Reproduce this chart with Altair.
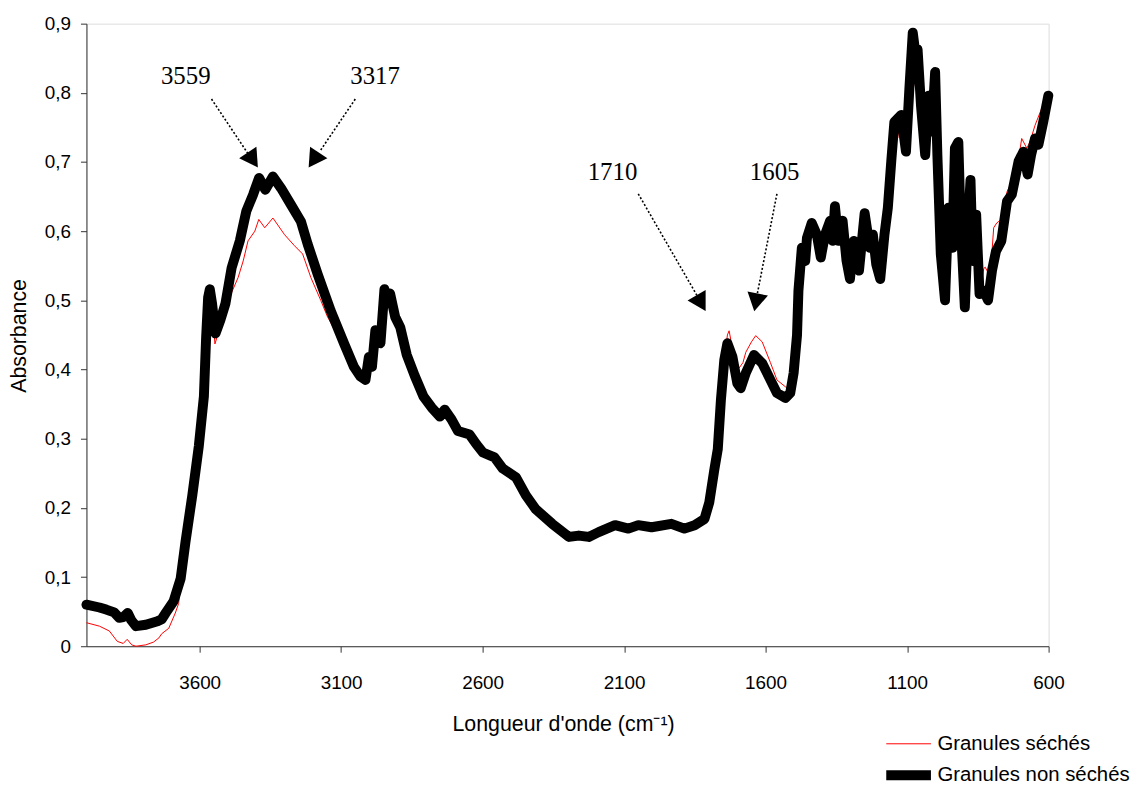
import altair as alt
import pandas as pd

# ---- Data: "Granules non séchés" (thick black) ----
wn_non_seches = [4000, 3954, 3930, 3902, 3884, 3870, 3854, 3842, 3825, 3790, 3749, 3734, 3720, 3692,
                 3667, 3650, 3626, 3603, 3585, 3577, 3570, 3564, 3556, 3544, 3527, 3509, 3487, 3458,
                 3435, 3411, 3390, 3368, 3341, 3312, 3277, 3242, 3218, 3183, 3137, 3090, 3055, 3032,
                 3014, 3002, 2991, 2979, 2961, 2947, 2938, 2927, 2909, 2891, 2868, 2840, 2809, 2780,
                 2751, 2734, 2710, 2687, 2646, 2622, 2599, 2558, 2529, 2482, 2447, 2412, 2354, 2295,
                 2260, 2225, 2190, 2132, 2085, 2050, 2003, 1933, 1887, 1851, 1816, 1799, 1781, 1769,
                 1758, 1746, 1735, 1717, 1700, 1688, 1670, 1641, 1612, 1583, 1560, 1530, 1513, 1501,
                 1489, 1484, 1472, 1460, 1454, 1437, 1419, 1405, 1390, 1372, 1363, 1355, 1343, 1328,
                 1314, 1302, 1288, 1270, 1250, 1232, 1221, 1209, 1195, 1180, 1168, 1156, 1145, 1133,
                 1121, 1104, 1092, 1080, 1071, 1063, 1051, 1036, 1024, 1013, 1001, 993, 981, 966,
                 954, 940, 931, 919, 911, 896, 885, 876, 868, 856, 844, 829, 814, 800, 786, 767,
                 747, 730, 706, 689, 674, 662, 648, 636, 619, 601]
abs_non_seches = [0.060, 0.056, 0.053, 0.049, 0.041, 0.042, 0.048, 0.038, 0.029, 0.031, 0.036, 0.039,
                  0.048, 0.065, 0.098, 0.151, 0.218, 0.289, 0.361, 0.447, 0.504, 0.516, 0.495, 0.452,
                  0.471, 0.495, 0.547, 0.586, 0.629, 0.653, 0.677, 0.660, 0.679, 0.662, 0.638, 0.614,
                  0.581, 0.538, 0.485, 0.438, 0.404, 0.390, 0.385, 0.418, 0.404, 0.457, 0.438, 0.516,
                  0.500, 0.510, 0.476, 0.461, 0.421, 0.391, 0.361, 0.345, 0.332, 0.342, 0.328, 0.311,
                  0.306, 0.292, 0.280, 0.273, 0.257, 0.244, 0.218, 0.198, 0.177, 0.158, 0.160, 0.158,
                  0.165, 0.175, 0.170, 0.175, 0.172, 0.177, 0.170, 0.175, 0.184, 0.208, 0.256, 0.285,
                  0.356, 0.414, 0.438, 0.418, 0.380, 0.373, 0.395, 0.421, 0.409, 0.385, 0.366, 0.359,
                  0.366, 0.395, 0.450, 0.514, 0.576, 0.557, 0.590, 0.612, 0.595, 0.562, 0.595, 0.615,
                  0.586, 0.636, 0.586, 0.615, 0.557, 0.531, 0.586, 0.543, 0.626, 0.576, 0.595, 0.552,
                  0.531, 0.595, 0.634, 0.701, 0.758, 0.763, 0.768, 0.715, 0.806, 0.887, 0.858, 0.863,
                  0.782, 0.710, 0.796, 0.744, 0.830, 0.710, 0.567, 0.500, 0.634, 0.576, 0.720, 0.729,
                  0.615, 0.490, 0.605, 0.674, 0.557, 0.624, 0.509, 0.514, 0.500, 0.543, 0.571, 0.586,
                  0.643, 0.653, 0.701, 0.715, 0.682, 0.710, 0.734, 0.725, 0.758, 0.796]

# ---- Data: "Granules séchés" (thin red) ----
wn_seches = [4000, 3954, 3919, 3891, 3870, 3856, 3840, 3825, 3790, 3763, 3744, 3734, 3709, 3686,
             3674, 3667, 3650, 3626, 3603, 3585, 3577, 3570, 3564, 3556, 3546, 3527, 3499, 3464,
             3446, 3429, 3405, 3391, 3370, 3341, 3300, 3265, 3236, 3207, 3172, 3148, 3137, 3120,
             3090, 3055, 3032, 3014, 3002, 2991, 2979, 2961, 2947, 2938, 2927, 2909, 2891, 2868,
             2840, 2809, 2780, 2751, 2734, 2710, 2687, 2646, 2622, 2599, 2558, 2529, 2482, 2447,
             2412, 2354, 2295, 2260, 2225, 2190, 2132, 2085, 2050, 2003, 1933, 1887, 1851, 1816,
             1799, 1781, 1769, 1758, 1746, 1735, 1729, 1717, 1700, 1694, 1680, 1670, 1650, 1635,
             1612, 1583, 1560, 1530, 1513, 1501, 1489, 1484, 1472, 1460, 1454, 1437, 1419, 1405,
             1390, 1372, 1363, 1355, 1343, 1328, 1314, 1302, 1288, 1270, 1250, 1232, 1221, 1209,
             1195, 1180, 1168, 1156, 1145, 1133, 1121, 1104, 1092, 1080, 1071, 1063, 1051, 1036,
             1024, 1013, 1001, 993, 981, 966, 954, 940, 931, 919, 911, 896, 885, 876, 868, 856,
             844, 829, 824, 814, 800, 794, 783, 766, 747, 730, 706, 695, 677, 666, 648, 625, 600]
abs_seches = [0.034, 0.029, 0.022, 0.007, 0.004, 0.010, 0.002, 0.000, 0.002, 0.006, 0.012, 0.018,
              0.026, 0.048, 0.062, 0.092, 0.151, 0.218, 0.289, 0.361, 0.447, 0.504, 0.516, 0.495,
              0.437, 0.462, 0.500, 0.533, 0.557, 0.586, 0.600, 0.617, 0.605, 0.619, 0.595, 0.579,
              0.567, 0.533, 0.500, 0.476, 0.468, 0.455, 0.438, 0.404, 0.390, 0.385, 0.418, 0.404,
              0.457, 0.438, 0.516, 0.500, 0.510, 0.476, 0.461, 0.421, 0.391, 0.361, 0.345, 0.332,
              0.342, 0.328, 0.311, 0.306, 0.292, 0.280, 0.273, 0.257, 0.244, 0.218, 0.198, 0.177,
              0.154, 0.156, 0.154, 0.165, 0.175, 0.170, 0.175, 0.172, 0.177, 0.170, 0.175, 0.184,
              0.208, 0.256, 0.285, 0.356, 0.414, 0.450, 0.456, 0.430, 0.400, 0.402, 0.410, 0.425,
              0.440, 0.449, 0.440, 0.410, 0.385, 0.375, 0.372, 0.395, 0.450, 0.514, 0.576, 0.557,
              0.590, 0.612, 0.595, 0.562, 0.595, 0.615, 0.586, 0.636, 0.586, 0.615, 0.557, 0.531,
              0.586, 0.543, 0.626, 0.576, 0.595, 0.552, 0.531, 0.595, 0.634, 0.701, 0.758, 0.735,
              0.768, 0.715, 0.806, 0.880, 0.810, 0.840, 0.782, 0.710, 0.796, 0.744, 0.830, 0.710,
              0.567, 0.500, 0.634, 0.576, 0.720, 0.729, 0.615, 0.490, 0.605, 0.674, 0.557, 0.624,
              0.509, 0.546, 0.548, 0.540, 0.571, 0.605, 0.612, 0.617, 0.657, 0.671, 0.705, 0.734,
              0.720, 0.729, 0.753, 0.777, 0.800]

x_ticks = [3600, 3100, 2600, 2100, 1600, 1100, 600]
y_ticks = [0, 0.1, 0.2, 0.3, 0.4, 0.5, 0.6, 0.7, 0.8, 0.9]

# ---- Annotations (peak labels and dotted arrows) ----
ann_labels = ["3559", "3317", "1710", "1605"]
ann_text_wn = [3649, 2980, 2141, 1568]
ann_text_abs = [0.824, 0.824, 0.686, 0.686]
arrow_start_wn = [3558, 3050, 2050, 1560]
arrow_start_abs = [0.791, 0.791, 0.654, 0.654]
arrow_end_wn = [3429, 3176, 1841, 1631]
arrow_end_abs = [0.712, 0.715, 0.506, 0.506]
head_wn = [3412, 3197, 1828, 1634]
head_abs = [0.703, 0.703, 0.496, 0.497]
head_angle = [146, 214, 150, 191]

S1 = "Granules séchés"
S2 = "Granules non séchés"

df = pd.concat([
    pd.DataFrame({"wn": wn_seches, "A": abs_seches, "serie": S1}),
    pd.DataFrame({"wn": wn_non_seches, "A": abs_non_seches, "serie": S2}),
])
ann = pd.DataFrame({"label": ann_labels, "tw": ann_text_wn, "ta": ann_text_abs,
                    "sw": arrow_start_wn, "sa": arrow_start_abs,
                    "ew": arrow_end_wn, "ea": arrow_end_abs,
                    "hw": head_wn, "ha": head_abs, "ang": head_angle})

FONT = "Liberation Sans"
AX = "#333333"

xscale = alt.Scale(domain=[4000, 600], nice=False, zero=False)
yscale = alt.Scale(domain=[0, 0.9], nice=False)

xaxis = alt.Axis(values=x_ticks, format="d", title="Longueur d'onde (cm⁻¹)", grid=False,
                 labelFont=FONT, labelFontSize=19, labelColor="black", labelPadding=22,
                 tickSize=6, tickColor=AX, domainColor=AX,
                 titleFont=FONT, titleFontSize=21.5, titleFontWeight="normal", titleColor="black",
                 titleX=480, titleY=79, titleBaseline="middle", titleAlign="center",
                 labelFlush=False, labelOverlap=False)
yaxis = alt.Axis(values=y_ticks, title="Absorbance", grid=False,
                 labelExpr="datum.value == 0 ? '0' : replace(format(datum.value, '.1f'), '.', ',')",
                 labelFont=FONT, labelFontSize=19, labelColor="black", labelPadding=10,
                 tickSize=6, tickColor=AX, domainColor=AX,
                 titleFont=FONT, titleFontSize=21.5, titleFontWeight="normal", titleColor="black",
                 titleX=-67, titleY=314, titleBaseline="middle", titleAlign="center", titleAngle=-90,
                 labelFlush=False, labelOverlap=False)

legend = alt.Legend(title=None, orient="none", legendX=814, legendY=715, padding=0,
                    symbolType="M-2.5,0L2.5,0", symbolSize=324, labelFont=FONT,
                    labelFontSize=20.5, labelColor="black", rowPadding=1, labelLimit=400,
                    labelOffset=15, symbolOffset=0)
color = alt.Color("serie:N", scale=alt.Scale(domain=[S1, S2], range=["#ff0000", "#000000"]),
                  legend=legend)
swidth = alt.StrokeWidth("serie:N", scale=alt.Scale(domain=[S1, S2], range=[1, 10]),
                         legend=legend)

base = alt.Chart(df).encode(
    x=alt.X("wn:Q", scale=xscale, axis=xaxis),
    y=alt.Y("A:Q", scale=yscale, axis=yaxis),
    color=color, strokeWidth=swidth,
)

red_line = base.transform_filter(alt.datum.serie == S1).mark_line(strokeJoin="round")
black_line = base.transform_filter(alt.datum.serie == S2).mark_line(strokeJoin="round", strokeCap="round")

annb = alt.Chart(ann)
texts = annb.mark_text(font="Liberation Serif", fontSize=25, color="black",
                       align="center", baseline="middle").encode(
    x=alt.X("tw:Q", scale=xscale), y=alt.Y("ta:Q", scale=yscale), text="label:N")
arrows = annb.mark_rule(color="black", strokeWidth=1.6, strokeDash=[2, 2]).encode(
    x=alt.X("sw:Q", scale=xscale), y=alt.Y("sa:Q", scale=yscale),
    x2="ew:Q", y2="ea:Q")
heads = annb.mark_point(shape="triangle-up", filled=True, color="black", size=440, opacity=1).encode(
    x=alt.X("hw:Q", scale=xscale), y=alt.Y("ha:Q", scale=yscale), angle=alt.Angle("ang:Q", scale=None))

chart = alt.layer(red_line, black_line, arrows, heads, texts).properties(
    width=969, height=627,
    autosize=alt.AutoSizeParams(type="none"),
    padding={"left": 79, "top": 13, "right": 85, "bottom": 139},
).configure_view(stroke=None).configure(font=FONT)

chart.save("out.html", embed_options={"renderer": "svg", "actions": False})
